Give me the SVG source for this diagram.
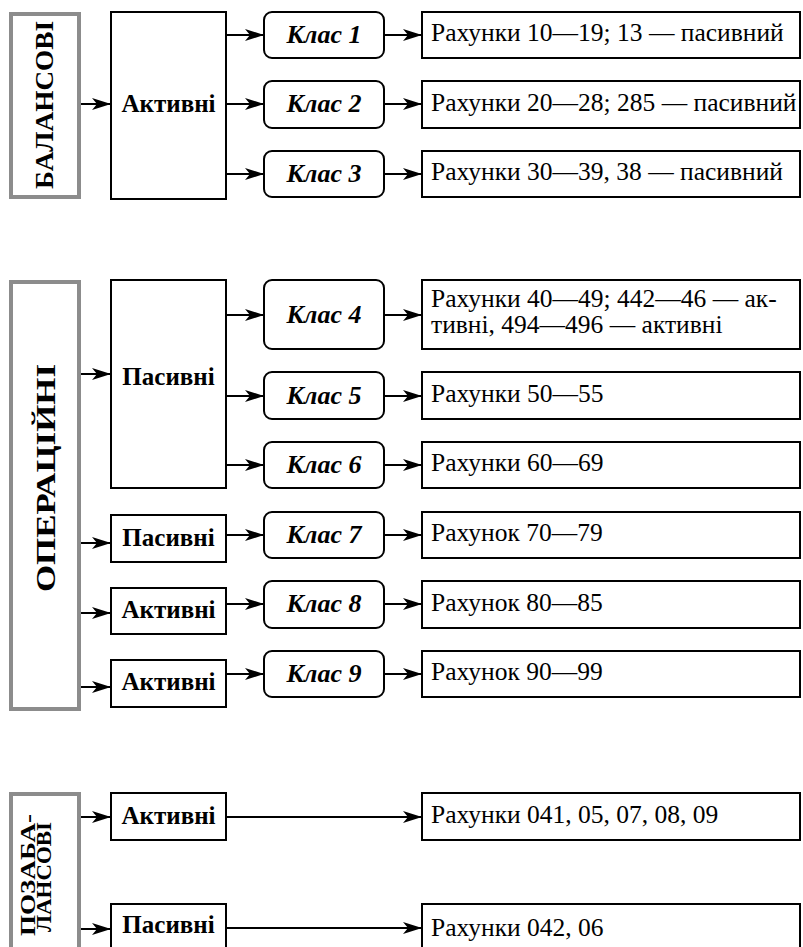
<svg xmlns="http://www.w3.org/2000/svg" width="803" height="947" viewBox="0 0 803 947" font-family="'Liberation Serif', 'DejaVu Serif', serif">
<defs>
<marker id="ah" markerUnits="userSpaceOnUse" markerWidth="22" markerHeight="14" refX="19" refY="6" orient="auto">
<path d="M0,0 L19,6 L0,12 L5,6 z" fill="#000"/>
</marker>
<style>
.g{fill:#fff;stroke:#8c8c8c;stroke-width:4}
.b{fill:#fff;stroke:#000;stroke-width:2}
.k{fill:#fff;stroke:#000;stroke-width:2}
.c line{stroke:#000;stroke-width:2;marker-end:url(#ah)}
text{fill:#000}
.rot{font-size:26px;font-weight:bold;text-anchor:middle}
.lb{font-size:25px;font-weight:bold;text-anchor:middle}
.kl{font-size:26px;font-weight:bold;font-style:italic;text-anchor:middle}
.ac{font-size:25.5px}
</style>
</defs>
<rect width="803" height="947" fill="#fff"/>

<!-- Section 1 -->
<g id="balansovi"><rect class="g" x="11" y="14" width="68" height="183"/><text class="rot" transform="translate(53,105) rotate(-90)" textLength="168" lengthAdjust="spacingAndGlyphs">БАЛАНСОВІ</text></g>
<g id="aktyvni1"><rect class="b" x="111" y="12" width="115" height="187"/><text class="lb" x="168.5" y="112">Активні</text></g>
<g id="klas1"><rect class="k" x="264" y="12" width="120" height="46" rx="8"/><text class="kl" x="324" y="43">Клас 1</text></g>
<g id="klas2"><rect class="k" x="264" y="81" width="120" height="47" rx="8"/><text class="kl" x="324" y="112">Клас 2</text></g>
<g id="klas3"><rect class="k" x="264" y="151" width="120" height="46" rx="8"/><text class="kl" x="324" y="182">Клас 3</text></g>
<g id="acc1"><rect class="b" x="422" y="12" width="378" height="46"/><text class="ac" x="431" y="41">Рахунки 10—19; 13 — пасивний</text></g>
<g id="acc2"><rect class="b" x="422" y="81" width="378" height="47"/><text class="ac" x="431" y="111">Рахунки 20—28; 285 — пасивний</text></g>
<g id="acc3"><rect class="b" x="422" y="151" width="378" height="46"/><text class="ac" x="431" y="180">Рахунки 30—39, 38 — пасивний</text></g>

<!-- Section 2 -->
<g id="operatsiini"><rect class="g" x="11" y="282" width="68" height="427"/><text class="rot" style="font-size:28px;text-anchor:start" transform="translate(55,592) rotate(-90)" textLength="228" lengthAdjust="spacingAndGlyphs">ОПЕРАЦІЙНІ</text></g>
<g id="pasyvni1"><rect class="b" x="111" y="280" width="115" height="208"/><text class="lb" x="168.5" y="385">Пасивні</text></g>
<g id="pasyvni2"><rect class="b" x="111" y="515" width="115" height="47"/><text class="lb" x="168.5" y="546">Пасивні</text></g>
<g id="aktyvni2"><rect class="b" x="111" y="588" width="115" height="46"/><text class="lb" x="168.5" y="618">Активні</text></g>
<g id="aktyvni3"><rect class="b" x="111" y="660" width="115" height="47"/><text class="lb" x="168.5" y="690">Активні</text></g>
<g id="klas4"><rect class="k" x="264" y="280" width="120" height="69" rx="8"/><text class="kl" x="324" y="323">Клас 4</text></g>
<g id="klas5"><rect class="k" x="264" y="372" width="120" height="47" rx="8"/><text class="kl" x="324" y="404">Клас 5</text></g>
<g id="klas6"><rect class="k" x="264" y="442" width="120" height="46" rx="8"/><text class="kl" x="324" y="473">Клас 6</text></g>
<g id="klas7"><rect class="k" x="264" y="512" width="120" height="46" rx="8"/><text class="kl" x="324" y="543">Клас 7</text></g>
<g id="klas8"><rect class="k" x="264" y="581" width="120" height="47" rx="8"/><text class="kl" x="324" y="612">Клас 8</text></g>
<g id="klas9"><rect class="k" x="264" y="651" width="120" height="46" rx="8"/><text class="kl" x="324" y="682">Клас 9</text></g>
<g id="acc4"><rect class="b" x="422" y="280" width="378" height="69"/><text class="ac" x="431" y="307">Рахунки 40—49; 442—46 — ак-</text><text class="ac" x="431" y="333">тивні, 494—496 — активні</text></g>
<g id="acc5"><rect class="b" x="422" y="372" width="378" height="47"/><text class="ac" x="431" y="402">Рахунки 50—55</text></g>
<g id="acc6"><rect class="b" x="422" y="442" width="378" height="46"/><text class="ac" x="431" y="471">Рахунки 60—69</text></g>
<g id="acc7"><rect class="b" x="422" y="512" width="378" height="46"/><text class="ac" x="431" y="541">Рахунок 70—79</text></g>
<g id="acc8"><rect class="b" x="422" y="581" width="378" height="47"/><text class="ac" x="431" y="611">Рахунок 80—85</text></g>
<g id="acc9"><rect class="b" x="422" y="651" width="378" height="46"/><text class="ac" x="431" y="680">Рахунок 90—99</text></g>

<!-- Section 3 -->
<g id="pozabalansovi"><rect class="g" x="11" y="794" width="68" height="170"/><text class="rot" style="font-size:22px" transform="translate(35,875) rotate(-90)" textLength="122" lengthAdjust="spacingAndGlyphs">ПОЗАБА-</text><text class="rot" style="font-size:22px" transform="translate(51,877) rotate(-90)" textLength="110" lengthAdjust="spacingAndGlyphs">ЛАНСОВІ</text></g>
<g id="aktyvni4"><rect class="b" x="111" y="793" width="115" height="47"/><text class="lb" x="168.5" y="824">Активні</text></g>
<g id="pasyvni3"><rect class="b" x="111" y="904" width="115" height="60"/><text class="lb" x="168.5" y="933">Пасивні</text></g>
<g id="acc10"><rect class="b" x="422" y="793" width="378" height="47"/><text class="ac" x="431" y="823">Рахунки 041, 05, 07, 08, 09</text></g>
<g id="acc11"><rect class="b" x="422" y="904" width="378" height="60"/><text class="ac" x="431" y="936">Рахунки 042, 06</text></g>

<g id="connectors" class="c">
<line x1="81" y1="104" x2="111" y2="104"/>
<line x1="226" y1="35" x2="264" y2="35"/>
<line x1="226" y1="104" x2="264" y2="104"/>
<line x1="226" y1="174" x2="264" y2="174"/>
<line x1="384" y1="35" x2="422" y2="35"/>
<line x1="384" y1="104" x2="422" y2="104"/>
<line x1="384" y1="174" x2="422" y2="174"/>
<line x1="81" y1="374" x2="111" y2="374"/>
<line x1="81" y1="543" x2="111" y2="543"/>
<line x1="81" y1="613" x2="111" y2="613"/>
<line x1="81" y1="687" x2="111" y2="687"/>
<line x1="226" y1="315" x2="264" y2="315"/>
<line x1="226" y1="396" x2="264" y2="396"/>
<line x1="226" y1="465" x2="264" y2="465"/>
<line x1="226" y1="535" x2="264" y2="535"/>
<line x1="226" y1="604" x2="264" y2="604"/>
<line x1="226" y1="674" x2="264" y2="674"/>
<line x1="384" y1="315" x2="422" y2="315"/>
<line x1="384" y1="396" x2="422" y2="396"/>
<line x1="384" y1="465" x2="422" y2="465"/>
<line x1="384" y1="535" x2="422" y2="535"/>
<line x1="384" y1="604" x2="422" y2="604"/>
<line x1="384" y1="674" x2="422" y2="674"/>
<line x1="81" y1="817" x2="111" y2="817"/>
<line x1="81" y1="929" x2="111" y2="929"/>
<line x1="226" y1="817" x2="422" y2="817"/>
<line x1="226" y1="928" x2="422" y2="928"/>
</g>
</svg>
